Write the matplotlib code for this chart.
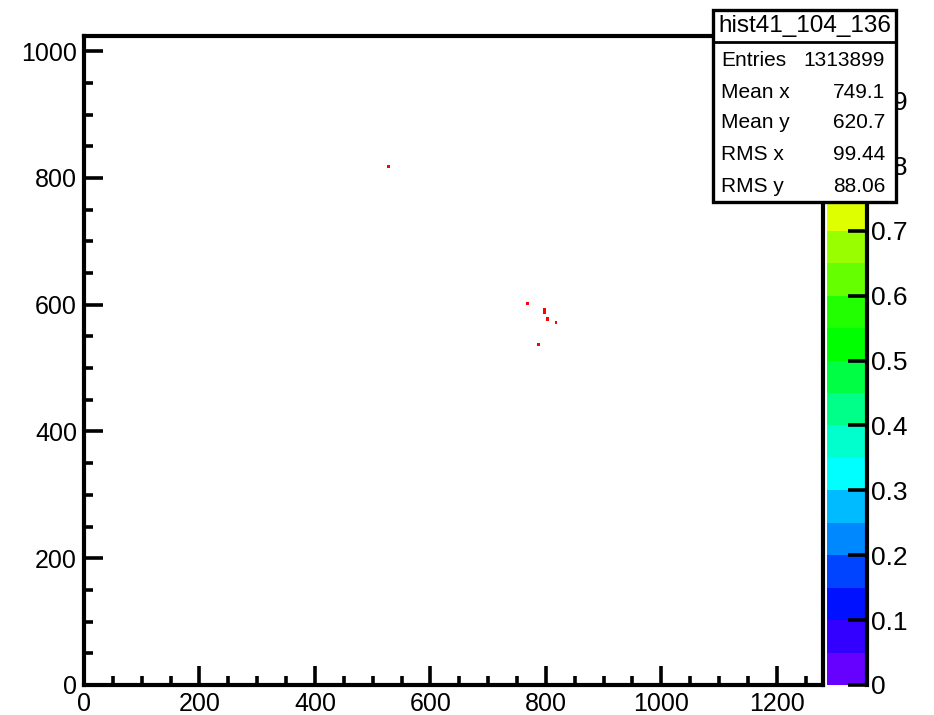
import numpy as np
import matplotlib
matplotlib.use('Agg')
import matplotlib.pyplot as plt
from matplotlib.colors import ListedColormap
from matplotlib.patches import Rectangle
from matplotlib.lines import Line2D

plt.rcParams['font.family'] = ['Liberation Sans', 'DejaVu Sans']

# filled bins of hist41_104_136 (x, y, content)
hit_x = [526, 768, 796, 799, 801, 815, 786]
hit_y = [818, 600, 592, 589, 576, 571, 536]
hit_w = [1.0, 1.0, 1.0, 1.0, 1.0, 1.0, 1.0]

stat_names = ['Entries', 'Mean x', 'Mean y', 'RMS x', 'RMS y']
stat_values = ['1313899', '749.1', '620.7', '99.44', '88.06']
hist_name = 'hist41_104_136'

# 20-level rainbow palette, purple -> red
palette = ['#6600ff', '#3300ff', '#0011ff', '#0044ff', '#0088ff',
           '#00bbff', '#00ffff', '#00ffcc', '#00ff88', '#00ff44',
           '#00ff00', '#22ff00', '#66ff00', '#99ff00', '#ddff00',
           '#ffff00', '#ffcc00', '#ff8800', '#ff4400', '#ff0000']
cmap = ListedColormap(palette)

W, H = 934, 715
fig = plt.figure(figsize=(W / 100, H / 100), dpi=100)

def box(x0, y0, x1, y1):
    # pixel box (top-left origin) -> figure rect
    return [x0 / W, 1 - y1 / H, (x1 - x0) / W, (y1 - y0) / H]

ax = fig.add_axes(box(84, 36, 823, 685))
xbins = np.arange(0, 1281, 5)
ybins = np.arange(0, 1026, 5)
_, _, _, mesh = ax.hist2d(hit_x, hit_y, bins=[xbins, ybins], weights=hit_w,
                          cmap=cmap, vmin=0, vmax=1, cmin=0.5)
ax.set_xlim(0, 1280)
ax.set_ylim(0, 1024)
ax.set_xticks(np.arange(0, 1281, 200))
ax.set_xticks(np.arange(0, 1281, 50), minor=True)
ax.set_yticks(np.arange(0, 1001, 200))
ax.set_yticks(np.arange(0, 1024, 50), minor=True)
ax.tick_params(which='both', direction='in', width=2.6, labelsize=18)
ax.tick_params(which='major', length=14)
ax.tick_params(which='minor', length=6.5)
ax.tick_params(axis='x', pad=5)
ax.tick_params(axis='y', pad=5)
for s in ax.spines.values():
    s.set_linewidth(3)

# palette axis
cax = fig.add_axes(box(827, 36, 867, 685))
cb = fig.colorbar(mesh, cax=cax)
cb.outline.set_visible(False)
cax.add_line(Line2D([1, 1], [0, 1], transform=cax.transAxes, color='black',
                    lw=3, clip_on=False))
zt = np.round(np.arange(0, 1.01, 0.1), 1)
cb.set_ticks(zt)
cb.set_ticklabels([f'{v:g}' for v in zt])
cax.tick_params(direction='in', length=14, width=2.6, labelsize=19, pad=3)

# stats box
bx0, by0, bx1, by1, bsep = 713, 10, 896, 202, 42
fig.add_artist(Rectangle((bx0 / W, 1 - by1 / H), (bx1 - bx0) / W, (by1 - by0) / H,
                         transform=fig.transFigure, facecolor='white',
                         edgecolor='black', lw=2.4, zorder=10))
fig.add_artist(Line2D([bx0 / W, bx1 / W], [1 - bsep / H, 1 - bsep / H],
                      transform=fig.transFigure, color='black', lw=2, zorder=11))
fig.text((bx0 + bx1) / 2 / W, 1 - 26 / H, hist_name, ha='center', va='center',
         fontsize=17.5, zorder=12)
row_y = [60, 92, 123, 155, 187]
for name, val, ry in zip(stat_names, stat_values, row_y):
    fig.text(721 / W, 1 - ry / H, name, ha='left', va='center', fontsize=15, zorder=12)
    fig.text(885 / W, 1 - ry / H, val, ha='right', va='center', fontsize=15, zorder=12)

fig.savefig('out.png', dpi=100)
